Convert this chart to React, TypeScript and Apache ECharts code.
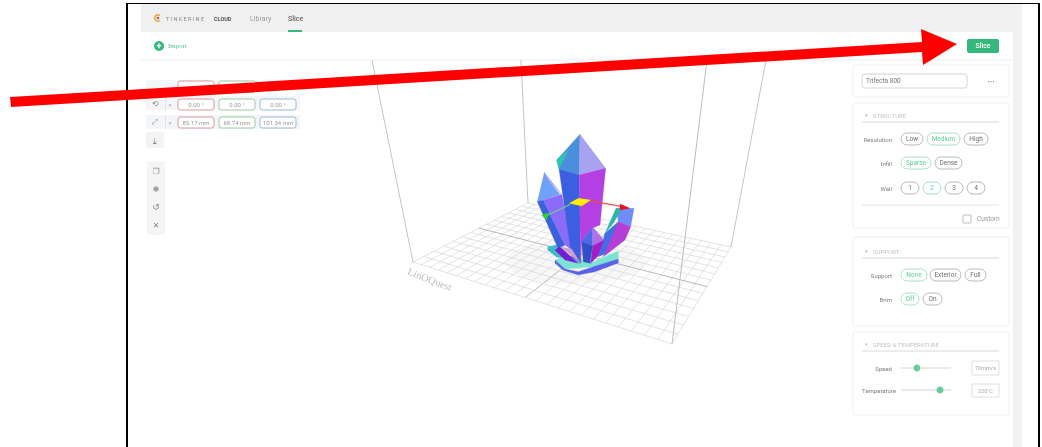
import React, { useEffect, useRef } from "react";
import * as echarts from "echarts";

const navLabels = ["Library", "Slice"];
const rotationValues = ["0.00 °", "0.00 °", "0.00 °"];
const scaleValues = ["85.17 mm", "68.74 mm", "101.34 mm"];
const resolutionOptions = ["Low", "Medium", "High"];
const infillOptions = ["Sparse", "Dense"];
const wallOptions = ["1", "2", "3", "4"];
const supportOptions = ["None", "Exterior", "Full"];
const brimOptions = ["Off", "On"];

const W = 1042, H = 447;
const UI = "Roboto, sans-serif";
const GREEN = "#35b97a";
const PILL = "#a8a8a8";
const GT = "#7d7d7d";

const txt = (text: string, x: number, y: number, size: number, fill: string, align = "left", weight = "normal", family = UI) => ({
  type: "text", z: 20,
  style: { text, x, y, fill, align, verticalAlign: "middle", font: `${weight} ${size}px ${family}` },
});
const rect = (x: number, y: number, w: number, h: number, fill: string, stroke = "none", r = 0, lw = 1, z = 5) => ({
  type: "rect", z, shape: { x, y, width: w, height: h, r }, style: { fill, stroke, lineWidth: lw },
});
const line = (x1: number, y1: number, x2: number, y2: number, stroke: string, lw = 1, z = 3) => ({
  type: "line", z, shape: { x1, y1, x2, y2 }, style: { stroke, lineWidth: lw },
});
const circle = (cx: number, cy: number, r: number, fill: string, stroke = "none", lw = 1, z = 6) => ({
  type: "circle", z, shape: { cx, cy, r }, style: { fill, stroke, lineWidth: lw },
});
const poly = (pts: number[][], fill: string, z = 10) => ({
  type: "polygon", z, shape: { points: pts.map(([zx, zy]) => [510 + zx / 3, 125 + zy / 3]) }, style: { fill, stroke: fill, lineWidth: 0.3 },
});

// projective floor: unit square -> L, F, R, B corners
const homography = (p: number[][]) => {
  const [[x0, y0], [x1, y1], [x2, y2], [x3, y3]] = p;
  const dx1 = x1 - x2, dx2 = x3 - x2, sx = x0 - x1 + x2 - x3;
  const dy1 = y1 - y2, dy2 = y3 - y2, sy = y0 - y1 + y2 - y3;
  const det = dx1 * dy2 - dx2 * dy1;
  const g = (sx * dy2 - dx2 * sy) / det, h = (dx1 * sy - sx * dy1) / det;
  const a = x1 - x0 + g * x1, b = x3 - x0 + h * x3, c = x0;
  const d = y1 - y0 + g * y1, e = y3 - y0 + h * y3, f = y0;
  return (u: number, v: number) => {
    const w = g * u + h * v + 1;
    return [(a * u + b * v + c) / w, (d * u + e * v + f) / w];
  };
};

const floor = () => {
  const P = homography([[413, 262], [672, 344], [731, 247], [528, 203]]);
  const out: any[] = [];
  const nu = 24, nv = 14;
  for (let i = 0; i <= nu; i++) {
    const [a, b] = [P(i / nu, 0), P(i / nu, 1)];
    const mid = i === nu / 2;
    out.push(line(a[0], a[1], b[0], b[1], mid ? "#a8a8a8" : "#dcdcdc", 0.8));
  }
  for (let j = 0; j <= nv; j++) {
    const [a, b] = [P(0, j / nv), P(1, j / nv)];
    const mid = j === nv / 2;
    out.push(line(a[0], a[1], b[0], b[1], mid ? "#a8a8a8" : "#dcdcdc", 0.8));
  }
  return out;
};

const pills = (labels: string[], xs: number[][], y: number, active: number) =>
  labels.flatMap((l, i) => [
    rect(xs[i][0], y, xs[i][1] - xs[i][0], 12, "#fff", i === active ? "#8fdcb6" : PILL, 6, 0.8),
    txt(l, (xs[i][0] + xs[i][1]) / 2, y + 6.2, 6.5, i === active ? "#5fcf98" : "#6f6f6f", "center"),
  ]);

const card = (y: number, h: number) => rect(853, y, 156, h, "#fff", "#f0f0f0", 2, 1, 2);
const header = (title: string, y: number) => [
  txt("▾", 865, y, 5, "#bbb"),
  txt(title, 873, y, 6, "#c4c4c4"),
  line(862, y + 7, 999, y + 7, "#cfcfcf", 0.8, 6),
];
const field = (x: number, y: number, w: number, h: number, color: string, bg = "#fff") => rect(x, y, w, h, bg, color, 2.5, 0.9, 6);

const crystal = () => [
  // base
  poly([[113, 365], [140, 360], [168, 402], [140, 396], [113, 375]], "#3fb8c8"),
  poly([[135, 405], [170, 393], [250, 410], [325, 378], [325, 402], [250, 425], [165, 432]], "#7be3d2", 11),
  poly([[135, 405], [165, 432], [205, 440], [250, 425], [325, 402], [325, 414], [255, 440], [205, 450], [160, 436], [135, 415]], "#5a62e8", 11),
  // left crystal
  poly([[103, 142], [82, 230], [150, 208], [122, 175]], "#6ea2f9", 12),
  poly([[103, 142], [155, 208], [122, 175]], "#aaa8ee", 12),
  poly([[82, 230], [100, 225], [165, 360], [145, 372]], "#3a60dc", 12),
  poly([[100, 225], [155, 208], [190, 378], [165, 360]], "#8a6cf8", 12),
  // main crystal
  poly([[210, 28], [140, 105], [147, 132], [208, 150]], "#4a8fdc", 13),
  poly([[140, 105], [147, 132], [175, 75]], "#2ec4b0", 13),
  poly([[210, 28], [287, 130], [208, 150]], "#a9a2f0", 13),
  poly([[147, 132], [208, 150], [212, 415], [185, 395]], "#3a5fe0", 13),
  poly([[208, 150], [287, 130], [270, 300], [245, 310], [215, 350], [212, 415]], "#b43fe2", 13),
  // right crystal
  poly([[318, 250], [372, 250], [362, 305], [325, 290]], "#6f8cf8", 12),
  poly([[318, 250], [335, 252], [310, 295], [285, 325]], "#2bb8a8", 12),
  poly([[285, 325], [325, 290], [300, 380], [265, 395]], "#3f6fe0", 12),
  poly([[325, 290], [362, 305], [345, 345], [280, 395]], "#b53fd6", 12),
  // small crystal
  poly([[248, 305], [215, 350], [248, 362]], "#4a6ae8", 14),
  poly([[248, 305], [282, 345], [248, 362]], "#b070e8", 14),
  poly([[215, 350], [248, 362], [240, 415], [220, 410]], "#3050c8", 14),
  poly([[248, 362], [282, 345], [265, 392], [242, 415]], "#a020c8", 14),
  // small front crystal
  poly([[135, 375], [150, 365], [205, 415], [165, 405]], "#7020d0", 14),
  poly([[150, 365], [185, 372], [210, 412]], "#c9a0d0", 15),
  // gizmo
  poly([[178, 235], [205, 220], [242, 225], [215, 243]], "#ffee00", 16),
  poly([[240, 226], [335, 243], [335, 246], [240, 229]], "#e8504a", 16),
  poly([[330, 237], [360, 250], [330, 255]], "#e8101a", 16),
  poly([[180, 237], [110, 270], [110, 273], [180, 240]], "#6fc8a0", 16),
  poly([[95, 270], [115, 264], [110, 285]], "#22dd22", 16),
];

const baseElements = (): any[] => [
  { type: "rect", z: 0, shape: { x: 0, y: 0, width: W, height: H }, style: { fill: "#fff" } },
  // app chrome
  rect(141, 4, 872, 28, "#f0f0f0", "none", 0, 0, 1),
  rect(1013, 4, 9, 443, "#f1f1f1", "none", 0, 0, 1),
  line(141, 60, 1013, 60, "#ececec", 1, 2),
  { type: "arc", z: 6, shape: { cx: 158, cy: 18, r: 3.2, startAngle: 0.9, endAngle: 5.4 }, style: { stroke: "#e6a33c", fill: "none", lineWidth: 1.4 } },
  circle(158, 18, 1.3, "#c05a50"),
  txt("T I N K E R I N E", 166, 18.5, 5.5, "#8a8a8a"),
  txt("CLOUD", 214, 18.5, 5.5, "#555", "left", "bold"),
  txt(navLabels[0], 250, 18.5, 7, "#9a9a9a"),
  txt(navLabels[1], 288, 18.5, 7, "#666", "left", "500"),
  rect(288, 30, 14, 2, GREEN, "none", 0, 0, 6),
  circle(159, 46, 5, GREEN),
  txt("+", 159, 46, 9, "#fff", "center", "bold"),
  txt("Import", 168, 46, 7, "#55c08c", "left", "normal", "'Liberation Serif', serif"),
  rect(967, 39, 32, 14, GREEN, "none", 2),
  txt("Slice", 983, 46, 7, "#fff", "center", "500"),

  // floor and box
  { type: "ellipse", z: 2, shape: { cx: 575, cy: 262, rx: 70, ry: 22 }, style: { fill: "rgba(0,0,0,0.03)" } },
  ...floor(),
  line(372, 60, 413, 262, "#c4c4c4"),
  line(521, 60, 528, 203, "#c4c4c4"),
  line(707, 60, 672, 344, "#bdbdbd"),
  line(766, 60, 731, 247, "#c4c4c4"),
  {
    type: "text", z: 4, x: 408, y: 271, rotation: -0.37,
    style: { text: "LinOQuest", x: 0, y: 0, fill: "#bdbdbd", align: "left", verticalAlign: "middle", font: "10.5px 'Liberation Serif', serif" },
  },
  ...crystal(),

  // transform controls
  rect(146, 80, 113, 13, "#f3f5f8", "none", 1, 0, 4),
  rect(146, 96, 154, 14, "#f3f5f8", "none", 1, 0, 4),
  rect(146, 115, 154, 14, "#f3f5f8", "none", 1, 0, 4),
  rect(146, 132, 18, 16, "#f3f3f3", "none", 1, 0, 4),
  rect(147, 161, 18, 74, "#f5f5f5", "none", 1, 0, 4),
  field(178, 81, 36, 11, "#d98f92"),
  field(219, 81, 37, 11, "#94c49a"),
  ...[99, 117].flatMap((y, r) => {
    const vals = r === 0 ? rotationValues : scaleValues;
    return [
      field(178, y, 36, 11, "#d98f92"),
      field(219, y, 36, 11, "#94c49a"),
      field(260, y, 36, 11, "#8fb1cf"),
      txt(vals[0], 196, y + 5.7, 6, "#999", "center"),
      txt(vals[1], 237, y + 5.7, 6, "#999", "center"),
      txt(vals[2], 278, y + 5.7, 6, "#999", "center"),
      txt(">", 170, y + 5.7, 6, "#888", "center"),
      line(165.5, y - 2, 165.5, y + 12, "#dde0e4", 0.8, 6),
    ];
  }),
  txt("⟲", 155, 103, 8, "#888", "center", "normal", "'DejaVu Sans'"),
  txt("⤢", 155, 122, 7, "#888", "center", "normal", "'DejaVu Sans'"),
  txt("⤓", 155, 140, 8, "#888", "center", "normal", "'DejaVu Sans'"),
  txt("❐", 156, 171, 8, "#888", "center", "normal", "'DejaVu Sans'"),
  txt("◉", 156, 188, 8, "#999", "center", "normal", "'DejaVu Sans'"),
  txt("↺", 156, 207, 9, "#888", "center", "normal", "'DejaVu Sans'"),
  txt("✕", 156, 225, 8, "#888", "center", "normal", "'DejaVu Sans'"),

  // printer
  card(65, 32),
  field(862, 74, 105, 14, "#cfcfcf"),
  txt("Trifecta 800", 866, 81, 6.5, "#777"),
  txt("···", 991, 81, 8, "#777", "center", "bold"),

  // structure
  card(103, 125),
  ...header("STRUCTURE", 115),
  txt("Resolution", 892, 139, 6, GT, "right"),
  ...pills(resolutionOptions, [[901, 923], [927, 960], [964, 988]], 133, 1),
  txt("Infill", 892, 163, 6, GT, "right"),
  ...pills(infillOptions, [[901, 931], [935, 962]], 157, 0),
  txt("Wall", 892, 188, 6, GT, "right"),
  ...pills(wallOptions, [[901, 919], [923, 941], [945, 963], [967, 985]], 182, 1),
  line(862, 205, 999, 205, "#dcdcdc", 0.8, 6),
  rect(963, 215, 8, 8, "#fff", "#aaa", 1, 0.8, 6),
  txt("Custom", 977, 219, 6.5, "#999"),

  // support
  card(237, 89),
  ...header("SUPPORT", 251),
  txt("Support", 892, 275, 6, GT, "right"),
  ...pills(supportOptions, [[901, 927], [930, 961], [965, 986]], 269, 0),
  txt("Brim", 892, 299, 6, GT, "right"),
  ...pills(brimOptions, [[901, 919], [923, 942]], 293, 0),

  // speed & temperature
  card(332, 83),
  ...header("SPEED & TEMPERATURE", 344),
  txt("Speed", 892, 368, 6, GT, "right"),
  line(901, 368, 951, 368, "#d4d4d4", 1, 6),
  circle(917, 368, 3.4, "#66cc99", "none", 0, 7),
  txt("Temperature", 896, 390, 6, GT, "right"),
  line(901, 390, 951, 390, "#d4d4d4", 1, 6),
  circle(940, 390, 3.4, "#66cc99", "none", 0, 7),
  rect(972, 361, 27, 14, "#fff", "#d8d8d8", 0, 0.8, 6),
  txt("70mm/s", 985.5, 368, 5.5, "#aaa", "center"),
  rect(972, 384, 27, 13, "#fff", "#d8d8d8", 0, 0.8, 6),
  txt("220°C", 985.5, 390.5, 5.5, "#aaa", "center"),
];

const overlayElements = (): any[] => [
  { type: "rect", z: 30, shape: { x: 126, y: 3, width: 914, height: 1 }, style: { fill: "#000" } },
  { type: "rect", z: 30, shape: { x: 126, y: 3, width: 2, height: H }, style: { fill: "#000" } },
  { type: "rect", z: 30, shape: { x: 1038, y: 3, width: 2, height: H }, style: { fill: "#000" } },
  {
    type: "polygon", z: 31,
    shape: { points: [[10, 97], [922, 42], [921, 29], [957, 44], [923, 65], [922, 52], [11, 107]] },
    style: { fill: "#ff0000" },
  },
];

export default function App() {
  const a = useRef<HTMLDivElement>(null);
  const b = useRef<HTMLDivElement>(null);
  useEffect(() => {
    document.body.style.margin = "0";
    const c1 = echarts.init(a.current!, null, { renderer: "svg", width: W, height: H });
    const c2 = echarts.init(b.current!, null, { renderer: "svg", width: W, height: H });
    c1.setOption({ animation: false, graphic: { elements: baseElements() } });
    c2.setOption({ animation: false, graphic: { elements: overlayElements() } });
    return () => { c1.dispose(); c2.dispose(); };
  }, []);
  return (
    <div style={{ position: "absolute", left: 0, top: 0, width: W, height: H, overflow: "hidden", background: "#fff" }}>
      <div ref={a} style={{ position: "absolute", left: 0, top: 0, width: W, height: H, filter: "blur(0.7px)" }} />
      <div ref={b} style={{ position: "absolute", left: 0, top: 0, width: W, height: H }} />
    </div>
  );
}
